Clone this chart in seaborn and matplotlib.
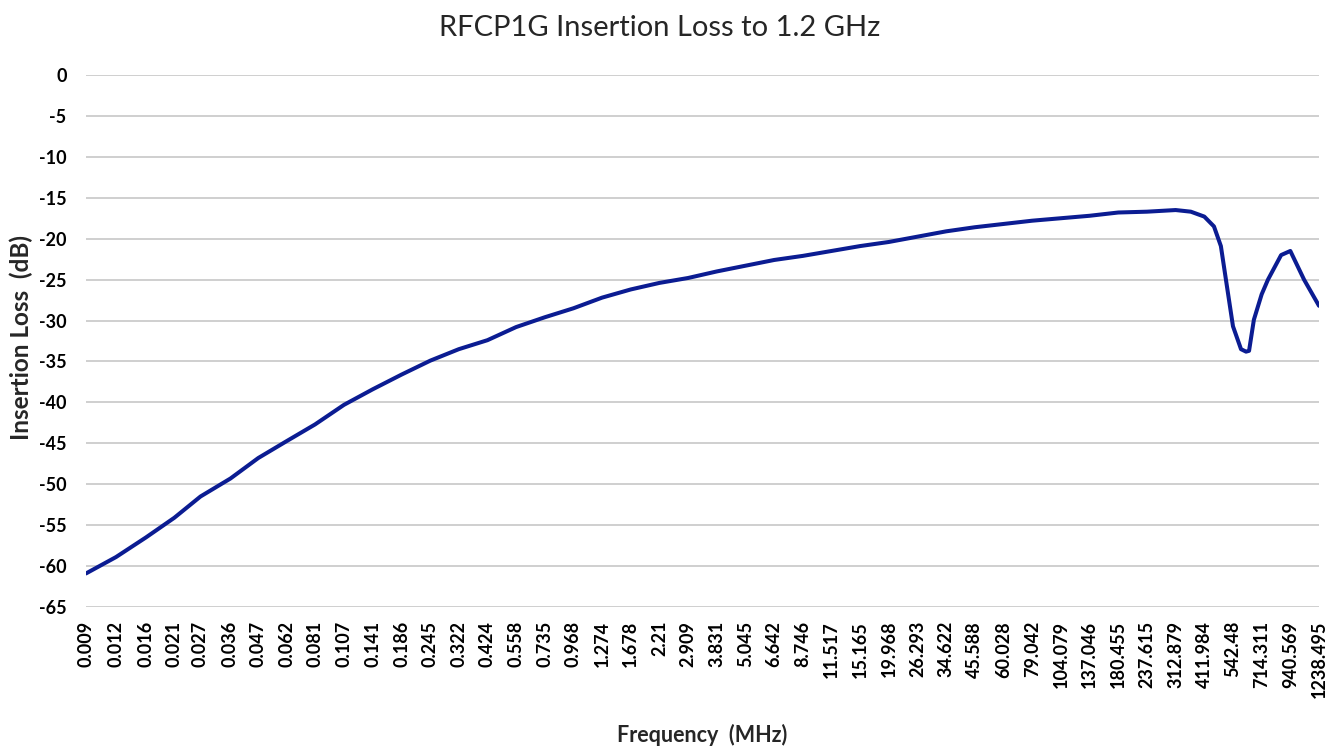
import pandas as pd
import seaborn as sns
import matplotlib.pyplot as plt
from matplotlib.ticker import NullLocator

# category labels on the x axis (MHz), log spaced
tick_labels = ['0.009', '0.012', '0.016', '0.021', '0.027', '0.036', '0.047', '0.062',
               '0.081', '0.107', '0.141', '0.186', '0.245', '0.322', '0.424', '0.558',
               '0.735', '0.968', '1.274', '1.678', '2.21', '2.909', '3.831', '5.045',
               '6.642', '8.746', '11.517', '15.165', '19.968', '26.293', '34.622', '45.588',
               '60.028', '79.042', '104.079', '137.046', '180.455', '237.615', '312.879',
               '411.984', '542.48', '714.311', '940.569', '1238.495']
tick_freqs = [float(t) for t in tick_labels]

# readings
freq_mhz = [0.009, 0.012, 0.016, 0.021, 0.027, 0.036, 0.047, 0.062, 0.081, 0.107,
            0.141, 0.186, 0.245, 0.322, 0.424, 0.558, 0.735, 0.968, 1.274, 1.678,
            2.21, 2.909, 3.831, 5.045, 6.642, 8.746, 11.517, 15.165, 19.968, 26.293,
            34.622, 45.588, 60.028, 79.042, 104.079, 137.046, 180.455, 237.615, 312.879,
            362, 411.984, 452, 483, 507, 542.48, 586, 615, 633, 663, 714.311,
            759, 861, 940.569, 1073, 1238.495]
loss_db = [-60.9, -58.9, -56.5, -54.1, -51.5, -49.3, -46.8, -44.7, -42.7, -40.3,
           -38.4, -36.6, -34.9, -33.5, -32.4, -30.8, -29.6, -28.5, -27.2, -26.2,
           -25.4, -24.8, -24.0, -23.3, -22.6, -22.1, -21.5, -20.9, -20.4, -19.75,
           -19.1, -18.6, -18.2, -17.8, -17.5, -17.2, -16.8, -16.7, -16.5,
           -16.7, -17.3, -18.5, -20.9, -25.0, -30.7, -33.5, -33.8, -33.7, -29.9, -26.8,
           -25.0, -22.0, -21.5, -25.0, -28.2]

y_ticks = list(range(0, -70, -5))

df = pd.DataFrame({'freq': freq_mhz, 'loss': loss_db})

sns.set_theme(style='whitegrid')
plt.rcParams['font.family'] = ['Lato', 'DejaVu Sans']

fig = plt.figure(figsize=(13.41, 7.49), dpi=100)
ax = fig.add_axes([86 / 1341, 1 - 607 / 749, (1319 - 86) / 1341, (607 - 75) / 749])

sns.lineplot(data=df, x='freq', y='loss', ax=ax, color='#0b1c92', linewidth=2.9)

ax.set_xscale('log')
ax.set_xlim(tick_freqs[0], tick_freqs[-1])
ax.set_ylim(-65, 0)
ax.set_xticks(tick_freqs)
ax.set_xticklabels(tick_labels, rotation=90, fontsize=13, fontweight='bold')
ax.xaxis.set_minor_locator(NullLocator())
ax.set_yticks(y_ticks)
ax.set_yticklabels([str(v) for v in y_ticks], fontsize=13, fontweight='bold')
ax.tick_params(axis='both', length=0, colors='black')
ax.tick_params(axis='x', pad=10)
ax.tick_params(axis='y', pad=14)

ax.grid(axis='x', visible=False)
ax.grid(axis='y', color='#cfcfcf', linewidth=1.4)
for s in ax.spines.values():
    s.set_visible(False)
ax.set_xlabel('')
ax.set_ylabel('')

fig.text(660 / 1341, 1 - 28 / 749, 'RFCP1G Insertion Loss to 1.2 GHz', ha='center', va='center', fontsize=21)
fig.text(702 / 1341, 1 - 735 / 749, 'Frequency  (MHz)', ha='center', va='center', fontsize=15.5, fontweight='bold')
fig.text(21 / 1341, 1 - 337 / 749, 'Insertion Loss  (dB)', ha='center', va='center', rotation=90,
         fontsize=17.5, fontweight='bold')

fig.savefig('out.png', dpi=100, facecolor='white')
